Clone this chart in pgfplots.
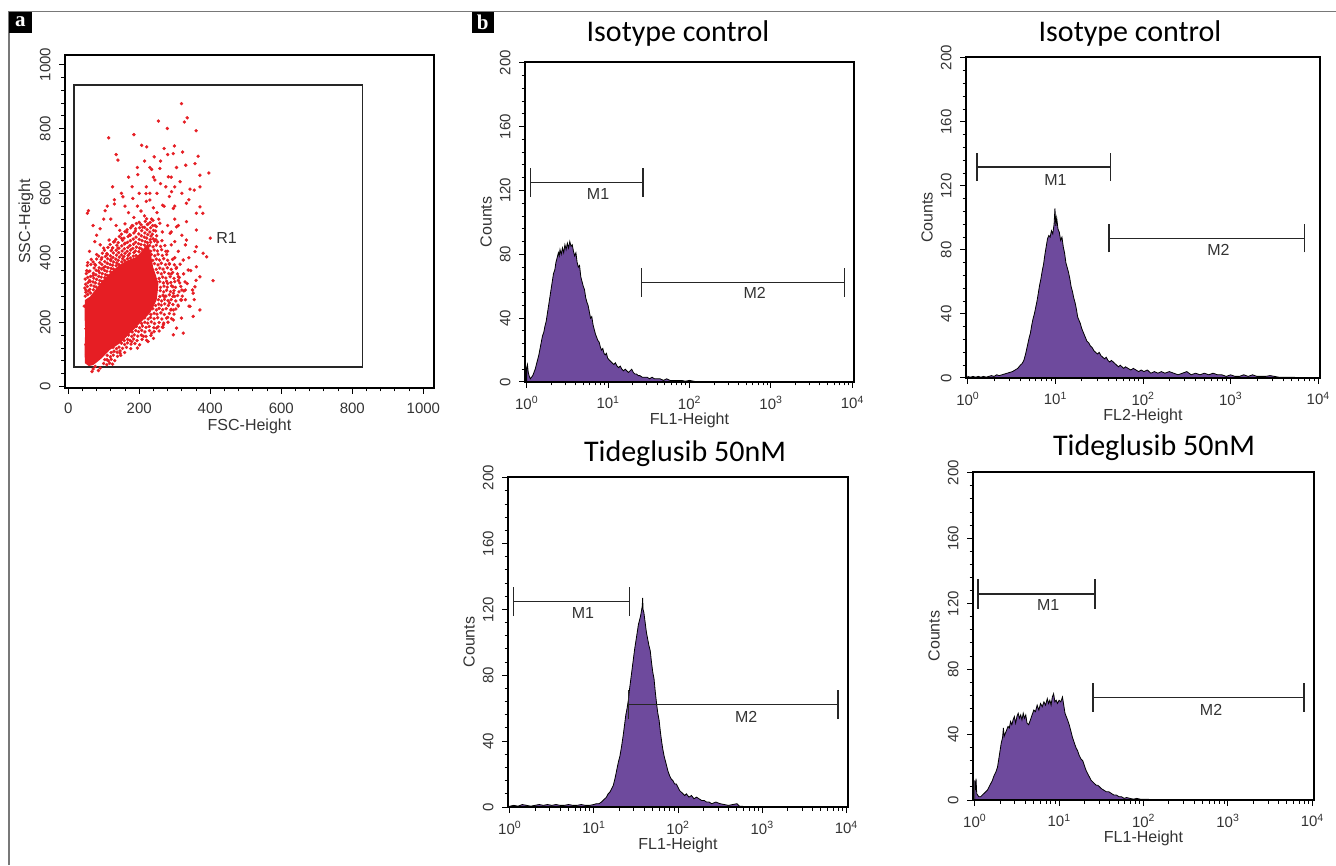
\documentclass[border=0pt]{standalone}
\usepackage{pgfplots}
\pgfplotsset{compat=1.18}
\usepackage{fontspec}
\setmainfont{Liberation Sans}
\newfontfamily\calibri{Carlito}
\newfontfamily\tnr{Liberation Serif}

\definecolor{scatred}{RGB}{230,30,36}
\definecolor{histpurple}{RGB}{110,74,157}
\definecolor{framegray}{RGB}{120,120,120}

\tikzset{
  mk/.style={black!85, line width=1.4pt},
  mlab/.style={font=\fontsize{16}{18}\selectfont, text=black!80},
  ttl/.style={font=\calibri\fontsize{30}{34}\selectfont},
}
\pgfplotsset{
  flowax/.style={
    scale only axis, anchor=south west, axis on top,
    axis line style={line width=1.3pt},
    tick style={black, line width=1pt},
    tick align=outside, xtick pos=bottom, ytick pos=left,
    major tick length=6pt, minor tick length=3.5pt,
    tick label style={font=\fontsize{15}{17}\selectfont, text=black!80},
    label style={font=\fontsize{16}{18}\selectfont, text=black!80},
    yticklabel style={rotate=90, anchor=south},
    xticklabel shift=5pt, yticklabel shift=5pt,
    xlabel style={at={([yshift=-38pt]axis description cs:0.5,0)}, anchor=center},
    ylabel style={at={([xshift=-39pt]axis description cs:0,0.5)}, anchor=center},
    /pgf/number format/assume math mode=true,
    /pgf/number format/set thousands separator={},
  },
  histax/.style={
    flowax, xmin=-0.02, xmax=4.02, ymin=0, ymax=200.5,
    xtick={0,1,2,3,4},
    xticklabels={10\textsuperscript{0},10\textsuperscript{1},10\textsuperscript{2},10\textsuperscript{3},10\textsuperscript{4}},
    minor xtick={0.301,0.477,0.602,0.699,0.778,0.845,0.903,0.954,
      1.301,1.477,1.602,1.699,1.778,1.845,1.903,1.954,
      2.301,2.477,2.602,2.699,2.778,2.845,2.903,2.954,
      3.301,3.477,3.602,3.699,3.778,3.845,3.903,3.954},
    ytick={0,40,...,200}, minor y tick num=4,
    ylabel={Counts},
  },
  histfill/.style={fill=histpurple, draw=black, line width=0.8pt},
}

\begin{document}
\begin{tikzpicture}
\useasboundingbox (0,0) rectangle (1336pt,865pt);

% frame and panel letters
\draw[framegray, line width=1.5pt] (9pt,0pt) -- (9pt,853.3pt) -- (1336pt,853.3pt);
\fill[black] (9pt,853.3pt) rectangle (31.7pt,831.7pt);
\node[text=white, font=\tnr\bfseries\fontsize{21}{21}\selectfont] at (20.3pt,843pt) {a};
\fill[black] (471.7pt,853.3pt) rectangle (494pt,831.7pt);
\node[text=white, font=\tnr\bfseries\fontsize{21}{21}\selectfont] at (482.8pt,843pt) {b};

% titles
\node[ttl] at (678pt,831pt) {Isotype control};
\node[ttl] at (1130pt,831pt) {Isotype control};
\node[ttl] at (685pt,411pt) {Tideglusib 50nM};
\node[ttl] at (1154pt,417pt) {Tideglusib 50nM};

% ---------- panel a: FSC / SSC ----------
\begin{axis}[flowax, at={(65pt,477pt)}, width=369pt, height=333pt,
  xmin=-9, xmax=1030, ymin=-4, ymax=1029,
  xtick={0,200,...,1000}, ytick={0,200,...,1000},
  minor x tick num=4, minor y tick num=4,
  xlabel={FSC-Height}, ylabel={SSC-Height}]
% dense core
\addplot[fill=scatred, draw=none] coordinates {
  (47,73)(46,120)(48,170)(46,220)(47,269)(61,279)(80,305)(98,331)(113,347)
  (127,362)(143,376)(160,388)(177,396)(193,403)(205,418)(216,434)(225,445)
  (233,410)(239,372)(247,345)(254,321)(252,295)(249,269)(240,248)(230,228)
  (216,212)(202,197)(188,181)(174,166)(160,150)(146,135)(131,124)(117,114)
  (105,100)(94,88)(82,77)(70,67)(58,64)};
% scattered events
\addplot[only marks, mark=*, mark size=1.5pt, scatred] coordinates {
  (319,878)(254,824)(335,834)(327,821)(360,794)(279,801)(185,782)(114,772)
  (207,749)(221,744)(270,739)(299,747)(296,723)(322,728)(135,720)(140,703)
  (242,713)(366,715)(331,687)(357,692)(396,663)(371,656)(196,658)(235,674)
  (282,651)(258,677)(244,641)(315,636)(343,613)(371,620)(355,610)(291,605)
  (54,538)(57,546)(104,546)(130,567)(182,584)(154,589)(219,599)(230,579)
  (371,558)(333,569)(266,563)(296,553)(361,538)(379,538)(333,512)(305,496)
  (258,507)(287,476)(361,486)(333,455)(361,434)(380,414)(357,419)(324,393)
  (390,403)(361,372)(338,362)(310,341)(371,341)(408,329)(357,310)(330,300)
  (296,290)(352,290)(319,269)(343,249)(371,238)(296,238)(319,213)(352,218)
  (296,207)(268,192)(305,182)(324,166)(296,161)(249,182)(235,166)(212,156)
  (179,140)(146,104)(109,84)(76,63)(67,47)(90,58)(400,461)
  (50,300)(45,250)(60,330)(52,360)(70,345)(75,380)(85,360)(95,400)(100,370)
  (110,410)(120,395)(125,430)(130,450)(140,430)(150,460)(160,445)(165,480)
  (175,470)(180,500)(190,490)(200,510)(210,495)(215,530)(225,505)(235,520)
  (245,500)(250,540)(240,555)(205,545)(185,525)(160,505)(145,485)(115,455)
  (100,430)(80,410)(65,395)(55,385)(60,420)(90,440)(135,500)(170,540)
  (195,560)(220,575)(255,520)(265,480)(230,600)(160,560)(120,520)(75,450)
  (280,420)(285,380)(290,350)(280,320)(295,310)(270,280)(285,260)
  (290,440)(300,400)(305,370)(310,330)(300,280)(290,240)(280,215)(265,185)
  (240,150)(225,140)(195,120)(60,70)(70,55)(85,50)(55,80)(52,100)(50,130)
  (55,160)(50,180)
  (300,450)(310,420)(320,470)(330,440)(340,400)(315,380)(325,350)(345,360)
  (335,320)(350,300)(360,330)(320,300)(330,270)(310,250)(340,250)(355,270)
  (300,520)(290,480)(280,500)(310,500)(270,560)(285,590)(300,560)(250,600)
  (260,630)(275,620)(220,620)(200,600)(240,650)(180,620)(150,600)(130,580)
  (110,560)(100,520)(90,490)(80,470)(70,500)(125,620)(195,680)(215,700)
  (170,650)(230,680)(320,600)(340,580)(300,620)(290,650)(305,680)(260,700)
  (280,720)
  (100,72)(109,68)(117,73)(125,70)(103,84)(113,80)(121,85)(131,81)
  (110,97)(119,93)(127,98)(139,94)(148,97)(121,106)(129,110)(138,107)(146,111)(159,106)
  (126,122)(136,118)(143,123)(153,119)(164,122)(176,118)
  (150,135)(159,131)(167,136)(177,132)(188,134)(201,130)
  (158,143)(167,147)(174,144)(184,148)(194,143)(208,147)(221,144)
  (170,160)(179,156)(186,161)(196,157)(206,160)(219,156)(233,159)
  (180,170)(190,174)(198,171)(207,175)(216,170)(229,174)(242,171)(256,173)
  (192,187)(201,183)(209,188)(219,184)(228,187)(241,183)(253,186)(267,184)
  (207,196)(216,200)(224,197)(234,201)(243,196)(256,199)(269,197)(281,200)
  (215,214)(225,210)(232,215)(242,211)(252,214)(264,210)(277,213)(291,211)
  (233,224)(242,228)(250,225)(261,229)(271,224)(285,227)(298,225)
  (238,242)(248,238)(256,243)(266,239)(276,242)(289,238)(303,241)
  (246,252)(255,256)(262,253)(272,257)(282,252)(295,255)(309,253)
  (254,270)(263,266)(271,271)(281,267)(290,270)(303,266)(317,269)
  (258,280)(267,284)(275,281)(285,285)(295,280)(308,283)(321,281)
  (259,298)(269,294)(277,299)(288,295)(298,298)(312,294)(326,297)
  (260,308)(270,312)(279,309)(291,313)(302,308)(317,311)
  (258,326)(268,322)(277,327)(289,323)(300,326)(314,322)(329,325)
  (256,336)(266,340)(275,337)(287,341)(298,336)(313,339)
  (252,354)(262,350)(271,355)(283,351)(294,354)(308,350)
  (248,364)(258,368)(267,365)(279,369)(290,364)(304,367)
  (243,382)(253,378)(262,383)(274,379)(285,382)(299,378)
  (238,392)(248,396)(257,393)(269,397)(280,392)(294,395)
  (234,410)(244,406)(253,411)(265,407)(277,410)
  (232,420)(242,424)(251,421)(263,425)(275,420)
  (229,438)(239,434)(248,439)(260,435)(272,438)
  (232,448)(243,452)(252,449)(264,453)
  (48,281)(50,293)(47,306)(49,318)(48,334)(51,351)
  (55,286)(57,297)(54,311)(56,323)(55,339)(57,357)(54,376)
  (63,291)(61,302)(64,315)(62,327)(63,342)(61,359)(64,379)
  (71,301)(73,312)(70,325)(72,337)(71,352)(73,368)(70,387)
  (79,309)(77,322)(80,333)(78,347)(79,361)(77,377)(80,396)
  (87,319)(89,329)(86,342)(88,354)(87,369)(89,385)(86,405)
  (95,327)(93,340)(96,351)(94,365)(95,379)(93,395)(96,414)
  (103,338)(105,348)(102,361)(104,373)(103,388)(105,404)(102,423)
  (111,345)(109,358)(112,369)(110,383)(111,397)(109,413)(112,432)
  (119,357)(121,367)(118,379)(120,391)(119,406)(121,422)(118,441)
  (127,365)(125,377)(128,387)(126,401)(127,415)(125,431)(128,449)
  (135,375)(137,384)(134,396)(136,408)(135,423)(137,439)(134,457)
  (143,379)(141,392)(144,402)(142,416)(143,430)(141,447)(144,466)
  (151,387)(153,397)(150,409)(152,421)(151,437)(153,454)(150,473)
  (159,391)(157,404)(160,414)(158,428)(159,443)(157,461)(160,481)
  (167,397)(169,407)(166,420)(168,432)(167,448)(169,466)(166,487)
  (175,399)(173,413)(176,424)(174,438)(175,453)(173,471)(176,493)
  (183,405)(185,416)(182,429)(184,442)(183,458)(185,477)(182,499)
  (191,407)(189,421)(192,433)(190,448)(191,464)(189,483)(192,506)
  (199,419)(201,430)(198,444)(200,457)(199,474)(201,493)
  (207,427)(205,441)(208,453)(206,468)(207,484)(205,503)
  (215,439)(217,450)(214,464)(216,477)(215,494)(217,513)
  (223,447)(221,461)(224,472)(222,487)(223,503)(221,521)
  (231,456)(233,467)(230,480)(232,493)(231,510)
  (239,459)(237,473)(240,485)(238,500)(239,516)
  (247,456)(249,468)(246,483)(248,497)};
\draw[black!85, line width=1.6pt] (axis cs:17,62) rectangle (axis cs:829,935);
\node[mlab] at (axis cs:446,460) {R1};
\end{axis}

% ---------- b, top left: isotype FL1 ----------
\begin{axis}[histax, at={(525pt,483pt)}, width=329pt, height=320pt, xlabel={FL1-Height}]
\addplot[histfill] coordinates {
  (0,9)(0.01,11)(0.02,6)(0.03,4)(0.045,2)(0.06,3)(0.075,4)(0.09,6)(0.105,8)
  (0.12,11)(0.135,14)(0.15,17)(0.165,21)(0.18,25)(0.195,29)(0.21,31)(0.225,35)
  (0.24,38)(0.255,43)(0.27,48)(0.285,53)(0.3,58)(0.315,63)(0.33,68)(0.345,70)
  (0.36,75)(0.375,78)(0.39,81)(0.4,79)(0.41,83)(0.425,80)(0.44,84)(0.455,81)
  (0.47,86)(0.485,83)(0.5,87)(0.515,84)(0.53,88)(0.545,85)(0.56,86)(0.575,82)
  (0.59,79)(0.605,81)(0.62,75)(0.635,72)(0.65,73)(0.665,66)(0.68,63)(0.695,60)
  (0.71,58)(0.725,53)(0.74,50)(0.755,48)(0.77,44)(0.785,40)(0.8,41)(0.815,36)
  (0.83,33)(0.845,30)(0.86,28)(0.875,26)(0.89,25)(0.905,22)(0.92,20)(0.935,21)
  (0.95,18)(0.965,17)(0.98,18)(0.995,15)(1.01,14)(1.03,13)(1.05,12)(1.07,11)
  (1.09,12)(1.11,10)(1.13,9)(1.15,10)(1.17,8)(1.19,7)(1.21,8)(1.23,7)(1.25,6)
  (1.27,7)(1.29,8)(1.31,6)(1.33,5)(1.35,5)(1.37,4)(1.39,4)(1.42,3)(1.45,3)
  (1.48,3)(1.51,2)(1.54,3)(1.57,2)(1.6,2)(1.64,2)(1.68,1)(1.72,2)(1.76,1)
  (1.8,1)(1.85,1)(1.9,1)(1.95,0.5)(2,1)(2.05,0.5)(2.1,0)} \closedcycle;
\draw[mk] (axis cs:0.049,125) -- (axis cs:1.427,125);
\draw[mk] (axis cs:0.049,116) -- (axis cs:0.049,134);
\draw[mk] (axis cs:1.427,116) -- (axis cs:1.427,134);
\node[mlab] at (axis cs:0.877,117.7) {M1};
\draw[mk] (axis cs:1.407,62.5) -- (axis cs:3.90,62.5);
\draw[mk] (axis cs:1.407,53.5) -- (axis cs:1.407,71.5);
\draw[mk] (axis cs:3.90,53.5) -- (axis cs:3.90,71.5);
\node[mlab] at (axis cs:2.80,55.6) {M2};
\end{axis}

% ---------- b, top right: isotype FL2 ----------
\begin{axis}[histax, at={(966pt,487pt)}, width=354pt, height=321pt, xlabel={FL2-Height}]
\addplot[histfill] coordinates {
  (0,1)(0.03,0.5)(0.06,1)(0.09,0.5)(0.12,1)(0.15,0.5)(0.18,1)(0.21,0.5)(0.24,1)
  (0.27,1.5)(0.3,1)(0.33,2)(0.36,1.5)(0.39,2)(0.42,2.5)(0.45,3)(0.48,3.5)
  (0.51,4)(0.54,5)(0.57,6)(0.6,8)(0.62,9)(0.64,11)(0.66,15)(0.68,20)(0.7,25)
  (0.715,28)(0.73,33)(0.745,37)(0.76,40)(0.775,44)(0.79,48)(0.805,53)(0.82,58)
  (0.835,62)(0.85,67)(0.865,71)(0.88,77)(0.895,82)(0.91,87)(0.925,89)(0.94,88)
  (0.955,92)(0.97,90)(0.985,96)(0.995,106)(1.005,95)(1.015,100)(1.03,93)
  (1.045,91)(1.06,86)(1.075,88)(1.09,82)(1.105,78)(1.12,72)(1.135,69)(1.15,66)
  (1.165,62)(1.18,57)(1.195,54)(1.21,50)(1.225,47)(1.24,43)(1.255,38)(1.27,36)
  (1.285,34)(1.3,31)(1.315,29)(1.33,27)(1.345,25)(1.36,23)(1.38,22)(1.4,20)
  (1.42,19)(1.44,17)(1.46,16)(1.48,15)(1.5,16)(1.52,14)(1.54,13)(1.56,12)
  (1.58,13)(1.6,11)(1.62,10)(1.64,11)(1.66,10)(1.68,9)(1.7,8)(1.72,7)(1.74,8)
  (1.76,7)(1.78,6)(1.8,7)(1.83,6)(1.86,5)(1.89,6)(1.92,5)(1.95,4)(1.98,5)
  (2.01,4)(2.05,5)(2.09,3)(2.13,4)(2.17,3)(2.21,4)(2.25,3)(2.3,4)(2.35,3)
  (2.4,2)(2.45,3)(2.5,4)(2.55,2)(2.6,3)(2.65,2)(2.7,3)(2.75,2)(2.8,3)(2.85,2)
  (2.9,2)(2.95,1)(3,2)(3.05,1)(3.1,1)(3.15,2)(3.2,1)(3.25,2)(3.3,1)(3.35,1)
  (3.4,1)(3.45,1.5)(3.5,1)(3.55,0.5)(3.6,0.5)(3.65,0.5)(3.7,0.5)(3.75,0.3)
  (3.8,0.3)(3.85,0.3)(3.9,0)} \closedcycle;
\draw[mk] (axis cs:0.106,131.8) -- (axis cs:1.63,131.8);
\draw[mk] (axis cs:0.106,123) -- (axis cs:0.106,140.6);
\draw[mk] (axis cs:1.63,123) -- (axis cs:1.63,140.6);
\node[mlab] at (axis cs:1.0,123.5) {M1};
\draw[mk] (axis cs:1.61,87.2) -- (axis cs:3.845,87.2);
\draw[mk] (axis cs:1.61,78.4) -- (axis cs:1.61,96);
\draw[mk] (axis cs:3.845,78.4) -- (axis cs:3.845,96);
\node[mlab] at (axis cs:2.86,80) {M2};
\end{axis}

% ---------- b, bottom left: tideglusib FL1 ----------
\begin{axis}[histax, at={(508pt,58pt)}, width=340pt, height=330pt, xlabel={FL1-Height}]
\addplot[histfill] coordinates {
  (0,0.5)(0.05,1)(0.1,0.5)(0.15,1.5)(0.2,1)(0.25,0.5)(0.3,1)(0.35,1.5)(0.4,1)
  (0.45,1.5)(0.5,1)(0.55,1.5)(0.6,1)(0.65,1)(0.7,1.5)(0.75,1)(0.8,1)(0.85,1.5)
  (0.9,1)(0.95,1)(1,1.5)(1.03,2)(1.06,2)(1.09,3)(1.11,4)(1.13,5)(1.15,6)
  (1.17,8)(1.19,9)(1.21,11)(1.23,13)(1.25,17)(1.27,22)(1.29,27)(1.31,31)
  (1.33,37)(1.35,44)(1.365,50)(1.38,56)(1.395,60)(1.41,65)(1.425,72)(1.44,78)
  (1.455,84)(1.47,90)(1.485,96)(1.5,101)(1.515,106)(1.53,111)(1.545,114)
  (1.555,116)(1.565,119)(1.575,122)(1.58,127)(1.585,120)(1.595,118)(1.61,112)
  (1.625,106)(1.64,102)(1.655,98)(1.67,95)(1.685,88)(1.7,82)(1.715,78)
  (1.73,70)(1.745,63)(1.76,57)(1.775,53)(1.79,46)(1.805,40)(1.82,35)(1.835,31)
  (1.85,28)(1.865,25)(1.88,22)(1.9,19)(1.92,17)(1.94,16)(1.96,14)(1.98,14)
  (2,12)(2.02,10)(2.04,9)(2.06,8)(2.08,7)(2.1,8)(2.13,6)(2.16,7)(2.19,5)
  (2.22,6)(2.25,5)(2.28,4)(2.31,4)(2.34,3)(2.37,3)(2.4,2)(2.45,3)(2.5,2)
  (2.55,1.5)(2.6,1)(2.65,1.5)(2.7,2)(2.73,0.5)(2.76,0.5)(2.8,0)} \closedcycle;
\draw[mk] (axis cs:0.0475,124.8) -- (axis cs:1.425,124.8);
\draw[mk] (axis cs:0.0475,116) -- (axis cs:0.0475,133.6);
\draw[mk] (axis cs:1.425,116) -- (axis cs:1.425,133.6);
\node[mlab] at (axis cs:0.87,117.6) {M1};
\draw[mk] (axis cs:1.413,62.2) -- (axis cs:3.90,62.2);
\draw[mk] (axis cs:1.413,53.4) -- (axis cs:1.413,71);
\draw[mk] (axis cs:3.90,53.4) -- (axis cs:3.90,71);
\node[mlab] at (axis cs:2.81,55) {M2};
\end{axis}

% ---------- b, bottom right: tideglusib FL1 ----------
\begin{axis}[histax, at={(973pt,65pt)}, width=341pt, height=328pt, xlabel={FL1-Height}]
\addplot[histfill] coordinates {
  (0,12)(0.008,6)(0.016,13)(0.024,4)(0.035,3)(0.05,2)(0.07,2)(0.09,3)(0.11,4)
  (0.13,5)(0.15,6)(0.17,8)(0.19,10)(0.21,12)(0.23,15)(0.25,17)(0.27,20)
  (0.285,25)(0.3,30)(0.315,35)(0.33,38)(0.34,44)(0.35,39)(0.365,41)(0.38,43)
  (0.395,45)(0.41,44)(0.425,48)(0.44,46)(0.455,49)(0.47,51)(0.485,47)(0.5,51)
  (0.515,53)(0.53,50)(0.545,52)(0.56,49)(0.575,53)(0.59,50)(0.605,52)(0.62,47)
  (0.64,46)(0.66,49)(0.68,52)(0.7,55)(0.72,54)(0.74,58)(0.76,55)(0.78,59)
  (0.8,57)(0.82,60)(0.84,58)(0.86,62)(0.875,59)(0.89,61)(0.905,58)(0.92,63)
  (0.935,65)(0.95,60)(0.965,61)(0.98,59)(1,61)(1.02,60)(1.04,63)(1.055,58)
  (1.07,53)(1.085,51)(1.1,49)(1.12,46)(1.14,42)(1.16,38)(1.18,35)(1.2,32)
  (1.22,30)(1.24,27)(1.26,25)(1.28,24)(1.3,21)(1.32,18)(1.34,16)(1.36,14)
  (1.38,12)(1.4,11)(1.42,10)(1.44,9)(1.46,9)(1.48,8)(1.5,7)(1.53,6)(1.56,5)
  (1.59,5)(1.62,4)(1.65,3)(1.68,3)(1.71,2)(1.74,2)(1.77,1)(1.8,1.5)(1.84,1)
  (1.88,0.5)(1.92,1)(1.96,0.5)(2,0.5)(2.05,0.5)(2.1,0)} \closedcycle;
\draw[mk] (axis cs:0.04,126) -- (axis cs:1.426,126);
\draw[mk] (axis cs:0.04,117) -- (axis cs:0.04,135);
\draw[mk] (axis cs:1.426,117) -- (axis cs:1.426,135);
\node[mlab] at (axis cs:0.87,119) {M1};
\draw[mk] (axis cs:1.40,62.8) -- (axis cs:3.90,62.8);
\draw[mk] (axis cs:1.40,54) -- (axis cs:1.40,71.6);
\draw[mk] (axis cs:3.90,54) -- (axis cs:3.90,71.6);
\node[mlab] at (axis cs:2.80,55) {M2};
\end{axis}
\end{tikzpicture}
\end{document}
